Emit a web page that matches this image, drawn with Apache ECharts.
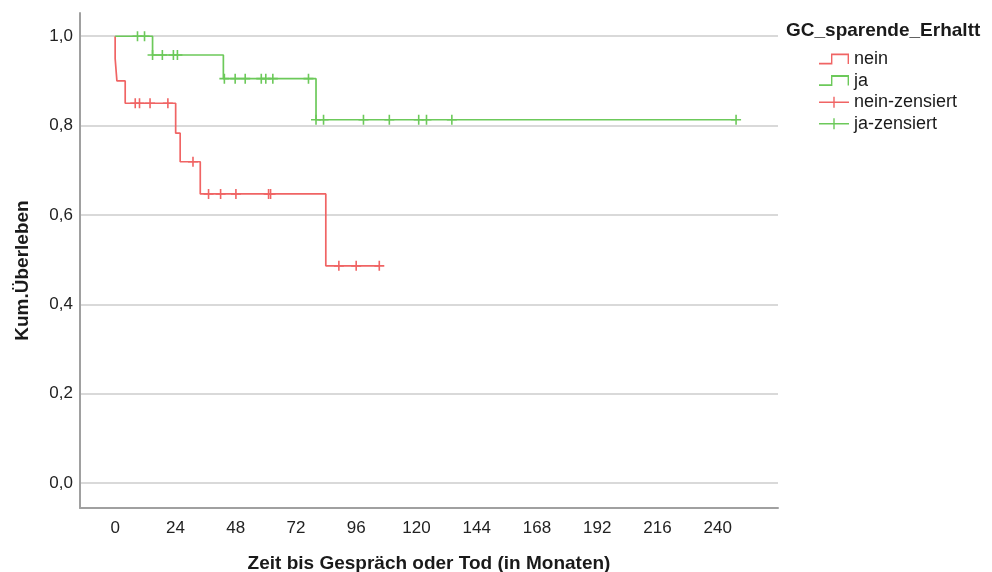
<!DOCTYPE html>
<html>
<head>
<meta charset="utf-8">
<title>Kaplan-Meier</title>
<script src="https://cdn.jsdelivr.net/npm/echarts@6/dist/echarts.min.js"></script>
<style>
html, body { margin: 0; padding: 0; background: #fff; }
#main { width: 992px; height: 572px; }
</style>
</head>
<body>
<div id="main"></div>
<script>
// Stufen der Überlebenskurven: Zeitpunkt (Monate) und kum. Überleben danach
var neinTimes = [0, 0, 0.7, 4.0, 24.1, 25.9, 33.9, 83.9, 105.2];
var neinSurv = [1.0, 0.95, 0.90, 0.85, 0.783, 0.719, 0.647, 0.486, 0.486];
// zensierte Fälle (Monate)
var neinCensored = [8.0, 9.7, 13.9, 21.0, 31.0, 37.2, 42.0, 48.1, 61.1, 61.9, 89.1, 96.0, 105.2];

var jaTimes = [0, 14.9, 43.1, 80.0, 247.3];
var jaSurv = [1.0, 0.958, 0.905, 0.813, 0.813];
var jaCensored = [8.9, 11.7, 14.9, 18.8, 23.2, 24.8, 43.5, 47.8, 51.8, 58.2, 60.0, 62.8, 77.0,
    80.0, 83.0, 98.9, 109.2, 120.9, 124.0, 134.1, 247.3];

var xTicks = [0, 24, 48, 72, 96, 120, 144, 168, 192, 216, 240];
var yTicks = [0, 0.2, 0.4, 0.6, 0.8, 1.0];

var red = '#f06464';
var green = '#6cc95a';
var font = '"Liberation Sans", Arial, sans-serif';

// Überleben zum Zeitpunkt t (Treppenfunktion)
function survAt(times, surv, t) {
    var s = surv[0];
    for (var i = 0; i < times.length; i++) {
        if (times[i] <= t) s = surv[i];
    }
    return s;
}

function steps(times, surv) {
    return times.map(function (t, i) { return [t, surv[i]]; });
}

function censorPoints(cens, times, surv) {
    return cens.map(function (t) { return [t, survAt(times, surv, t)]; });
}

var plusMark = 'path://M0,4.2H10V5.8H0Z M4.2,0H5.8V10H4.2Z';
var stepIcon = 'path://M0,7H12V0H30V8H28.6V1.4H13.4V8.4H0Z';
var plusIcon = 'path://M0,4.8H30V6.2H0Z M14.3,0H15.7V11H14.3Z';

var myChart = echarts.init(document.getElementById('main'));

var option = {
    animation: false,
    backgroundColor: '#fff',
    title: {
        text: 'GC_sparende_Erhaltt',
        left: 786,
        top: 21,
        padding: 0,
        textStyle: { fontFamily: font, fontSize: 19, fontWeight: 'bold', color: '#1a1a1a' }
    },
    legend: {
        orient: 'vertical',
        left: 819,
        top: 50,
        itemWidth: 30,
        itemHeight: 11,
        itemGap: 3.6,
        padding: 0,
        symbolKeepAspect: false,
        textStyle: { fontFamily: font, fontSize: 18, color: '#1a1a1a' },
        data: [
            { name: 'nein', icon: stepIcon, itemStyle: { color: red, opacity: 1 } },
            { name: 'ja', icon: stepIcon, itemStyle: { color: green, opacity: 1 } },
            { name: 'nein-zensiert', icon: plusIcon, itemStyle: { color: red, opacity: 1 } },
            { name: 'ja-zensiert', icon: plusIcon, itemStyle: { color: green, opacity: 1 } }
        ]
    },
    grid: { left: 80, right: 214, top: 13, bottom: 64, outerBoundsMode: 'none', containLabel: false },
    xAxis: {
        type: 'value',
        min: -14,
        max: 264,
        name: 'Zeit bis Gespräch oder Tod (in Monaten)',
        nameLocation: 'middle',
        nameGap: 46,
        nameTextStyle: { fontFamily: font, fontSize: 19, fontWeight: 'bold', color: '#1a1a1a' },
        axisLine: { show: true, onZero: false, lineStyle: { color: '#a0a0a0', width: 2 } },
        axisTick: { show: false, customValues: xTicks },
        axisLabel: {
            customValues: xTicks,
            margin: 12,
            fontFamily: font,
            fontSize: 17,
            color: '#222'
        },
        splitLine: { show: false }
    },
    yAxis: {
        type: 'value',
        min: -0.056,
        max: 1.052,
        name: 'Kum.Überleben',
        nameLocation: 'middle',
        nameGap: 48,
        nameRotate: 90,
        nameTextStyle: {
            fontFamily: font, fontSize: 19, fontWeight: 'bold', color: '#1a1a1a',
            padding: [0, 20, 0, 0]
        },
        axisLine: { show: true, onZero: false, lineStyle: { color: '#a0a0a0', width: 2 } },
        axisTick: { show: false, customValues: yTicks },
        axisLabel: {
            customValues: yTicks,
            margin: 7,
            fontFamily: font,
            fontSize: 17,
            color: '#222',
            formatter: function (v) { return v.toFixed(1).replace('.', ','); }
        },
        splitLine: { show: true, lineStyle: { color: '#d9d9d9', width: 2 } }
    },
    series: [
        {
            name: 'nein',
            type: 'line',
            step: 'end',
            symbol: 'none',
            color: red,
            lineStyle: { width: 1.7 },
            data: steps(neinTimes, neinSurv)
        },
        {
            name: 'ja',
            type: 'line',
            step: 'end',
            symbol: 'none',
            color: green,
            lineStyle: { width: 1.7 },
            data: steps(jaTimes, jaSurv)
        },
        {
            name: 'nein-zensiert',
            type: 'scatter',
            symbol: plusMark,
            symbolSize: 10,
            color: red,
            itemStyle: { opacity: 1 },
            data: censorPoints(neinCensored, neinTimes, neinSurv)
        },
        {
            name: 'ja-zensiert',
            type: 'scatter',
            symbol: plusMark,
            symbolSize: 10,
            color: green,
            itemStyle: { opacity: 1 },
            data: censorPoints(jaCensored, jaTimes, jaSurv)
        }
    ]
};

myChart.setOption(option);
</script>
</body>
</html>
